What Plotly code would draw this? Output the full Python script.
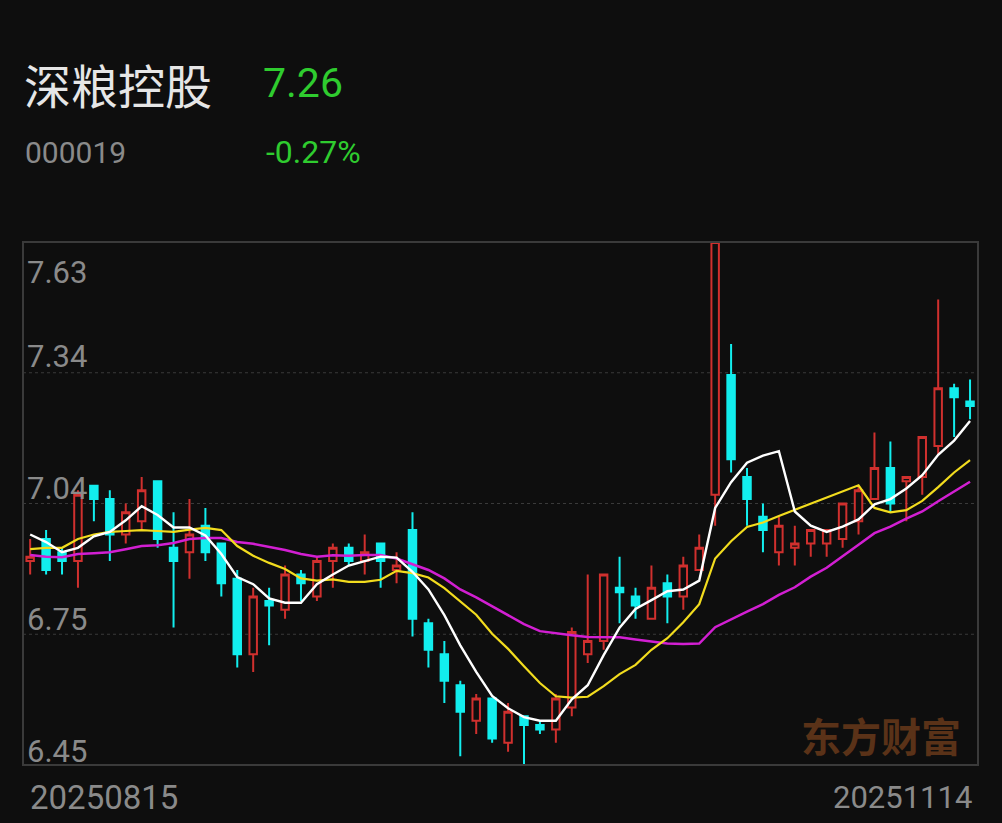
import plotly.graph_objects as go

# ---------------- data ----------------
stock_name = "深粮控股"
stock_code = "000019"
last_price = "7.26"
change_pct = "-0.27%"
date_labels = ["20250815", "20251114"]
y_tick_values = [7.63, 7.335, 7.04, 6.745, 6.45]
y_tick_labels = ["7.63", "7.34", "7.04", "6.75", "6.45"]
watermark = "东方财富"

opens = [6.91, 6.96, 6.93, 6.91, 7.08, 7.05, 6.97, 7.00, 7.09, 6.94,
         6.93, 6.99, 6.95, 6.87, 6.70, 6.82, 6.80, 6.88, 6.83, 6.91,
         6.94, 6.91, 6.95, 6.89, 6.98, 6.77, 6.70, 6.63, 6.55, 6.60,
         6.50, 6.56, 6.54, 6.53, 6.58, 6.70, 6.73, 6.85, 6.83, 6.78,
         6.86, 6.83, 6.89, 7.06, 7.33, 7.10, 7.01, 6.93, 6.94, 6.95,
         6.95, 6.96, 7.00, 7.05, 7.12, 7.09, 7.10, 7.17, 7.30, 7.27]
highs = [6.96, 6.98, 6.94, 7.07, 7.08, 7.07, 7.04, 7.10, 7.09, 7.02,
         7.05, 7.03, 6.95, 6.89, 6.85, 6.85, 6.90, 6.89, 6.92, 6.95,
         6.95, 6.97, 6.95, 6.93, 7.02, 6.78, 6.73, 6.64, 6.61, 6.60,
         6.59, 6.56, 6.55, 6.61, 6.76, 6.88, 6.88, 6.92, 6.85, 6.90,
         6.88, 6.92, 6.97, 7.63, 7.40, 7.12, 7.04, 7.01, 6.99, 6.98,
         6.98, 7.04, 7.08, 7.20, 7.18, 7.10, 7.19, 7.50, 7.31, 7.32]
lows = [6.88, 6.88, 6.88, 6.85, 7.00, 6.91, 6.95, 6.98, 6.94, 6.76,
        6.87, 6.91, 6.83, 6.67, 6.66, 6.72, 6.78, 6.82, 6.82, 6.85,
        6.90, 6.88, 6.85, 6.86, 6.74, 6.67, 6.59, 6.47, 6.52, 6.50,
        6.48, 6.451, 6.52, 6.50, 6.56, 6.68, 6.71, 6.77, 6.78, 6.78,
        6.77, 6.80, 6.89, 6.99, 7.11, 6.99, 6.93, 6.90, 6.90, 6.92,
        6.92, 6.94, 6.97, 7.05, 7.02, 7.00, 7.06, 7.15, 7.19, 7.23]
closes = [6.92, 6.89, 6.91, 7.06, 7.05, 6.97, 7.02, 7.07, 6.96, 6.91,
          6.97, 6.93, 6.86, 6.70, 6.83, 6.81, 6.88, 6.86, 6.91, 6.94,
          6.91, 6.93, 6.91, 6.90, 6.78, 6.71, 6.64, 6.57, 6.60, 6.51,
          6.57, 6.54, 6.53, 6.60, 6.75, 6.73, 6.88, 6.84, 6.81, 6.85,
          6.83, 6.90, 6.94, 7.63, 7.14, 7.05, 6.98, 6.99, 6.95, 6.98,
          6.98, 7.04, 7.07, 7.12, 7.04, 7.10, 7.19, 7.30, 7.28, 7.26]

ma5 = [6.970, 6.953, 6.930, 6.940, 6.966, 6.976, 7.002, 7.034, 7.014, 6.986,
       6.986, 6.968, 6.926, 6.874, 6.858, 6.826, 6.816, 6.816, 6.858, 6.880,
       6.900, 6.910, 6.920, 6.918, 6.886, 6.846, 6.788, 6.720, 6.660, 6.606,
       6.578, 6.558, 6.550, 6.550, 6.598, 6.630, 6.698, 6.760, 6.802, 6.822,
       6.842, 6.846, 6.866, 7.030, 7.088, 7.132, 7.148, 7.158, 7.022, 6.990,
       6.976, 6.988, 7.004, 7.038, 7.050, 7.074, 7.104, 7.150, 7.182, 7.226]
ma10 = [6.937, 6.940, 6.940, 6.960, 6.970, 6.976, 6.978, 6.980, 6.978, 6.976,
        6.981, 6.985, 6.980, 6.944, 6.922, 6.906, 6.892, 6.871, 6.866, 6.869,
        6.863, 6.863, 6.868, 6.888, 6.883, 6.873, 6.849, 6.820, 6.789, 6.746,
        6.712, 6.673, 6.635, 6.605, 6.602, 6.604, 6.628, 6.655, 6.676, 6.710,
        6.736, 6.772, 6.813, 6.916, 6.955, 6.987, 6.997, 7.012, 7.026, 7.039,
        7.054, 7.068, 7.081, 7.030, 7.020, 7.025, 7.046, 7.077, 7.110, 7.138]
ma20 = [6.924, 6.920, 6.919, 6.926, 6.928, 6.930, 6.937, 6.944, 6.946, 6.951,
        6.960, 6.962, 6.962, 6.953, 6.949, 6.942, 6.935, 6.926, 6.920, 6.923,
        6.922, 6.924, 6.924, 6.916, 6.903, 6.890, 6.871, 6.846, 6.828, 6.808,
        6.788, 6.768, 6.752, 6.747, 6.743, 6.739, 6.739, 6.738, 6.733, 6.728,
        6.724, 6.723, 6.724, 6.761, 6.779, 6.796, 6.813, 6.834, 6.851, 6.875,
        6.895, 6.920, 6.947, 6.973, 6.988, 7.006, 7.022, 7.045, 7.068, 7.089]

# ---------------- style ----------------
BG = "#0e0e0e"
RED = "#d0302e"
CYAN = "#12eeee"
GREEN = "#2fcc2f"
GRAY = "#8a8a8a"
DIGIT_FONT = "Roboto, Noto Sans CJK SC, sans-serif"
CJK_FONT = "Noto Sans CJK SC, sans-serif"

W, H = 1002, 823
L, R, T, B = 23, 978, 242, 765


def px_x(px):
    return (px - L) / (R - L)


def px_y(py):
    return (B - py) / (B - T)


idx = list(range(len(closes)))

fig = go.Figure()
fig.add_trace(go.Candlestick(
    x=idx, open=opens, high=highs, low=lows, close=closes,
    increasing=dict(line=dict(color=RED, width=2), fillcolor=BG),
    decreasing=dict(line=dict(color=CYAN, width=2), fillcolor=CYAN),
    hoverinfo="skip", showlegend=False,
))
fig.add_trace(go.Scatter(x=idx, y=ma20, mode="lines",
                         line=dict(color="#d21fd2", width=2.5), hoverinfo="skip", showlegend=False))
fig.add_trace(go.Scatter(x=idx, y=ma10, mode="lines",
                         line=dict(color="#f2dc1e", width=2.2), hoverinfo="skip", showlegend=False))
fig.add_trace(go.Scatter(x=idx, y=ma5, mode="lines",
                         line=dict(color="#ffffff", width=2.4), hoverinfo="skip", showlegend=False))

shapes = []
for v in y_tick_values[1:-1]:
    shapes.append(dict(type="line", xref="paper", x0=0, x1=1, yref="y", y0=v, y1=v,
                       line=dict(color="#3a3a3a", width=1, dash="dot"), layer="below"))
shapes.append(dict(type="rect", xref="paper", yref="paper", x0=0, x1=1, y0=0, y1=1,
                   line=dict(color="#3a3a3a", width=2), layer="above"))

annotations = []
label_centers = [272, 356, 488, 619, 751]
for lab, cy in zip(y_tick_labels, label_centers):
    annotations.append(dict(text=lab, xref="paper", yref="paper", x=px_x(25), y=px_y(cy),
                            xanchor="left", yanchor="middle", showarrow=False,
                            font=dict(family=DIGIT_FONT, size=31, color=GRAY)))
annotations.append(dict(text=date_labels[0], xref="paper", yref="paper", x=px_x(28), y=px_y(797),
                        xanchor="left", yanchor="middle", showarrow=False,
                        font=dict(family=DIGIT_FONT, size=33, color=GRAY)))
annotations.append(dict(text=date_labels[1], xref="paper", yref="paper", x=px_x(974), y=px_y(797),
                        xanchor="right", yanchor="middle", showarrow=False,
                        font=dict(family=DIGIT_FONT, size=31, color=GRAY)))
annotations.append(dict(text=stock_name, xref="paper", yref="paper", x=px_x(22), y=px_y(83),
                        xanchor="left", yanchor="middle", showarrow=False,
                        font=dict(family=CJK_FONT, size=47, color="#e6e6e6")))
annotations.append(dict(text=last_price, xref="paper", yref="paper", x=px_x(261), y=px_y(83),
                        xanchor="left", yanchor="middle", showarrow=False,
                        font=dict(family=DIGIT_FONT, size=41, color=GREEN)))
annotations.append(dict(text=stock_code, xref="paper", yref="paper", x=px_x(23), y=px_y(152),
                        xanchor="left", yanchor="middle", showarrow=False,
                        font=dict(family=DIGIT_FONT, size=30, color=GRAY)))
annotations.append(dict(text=change_pct, xref="paper", yref="paper", x=px_x(264), y=px_y(152),
                        xanchor="left", yanchor="middle", showarrow=False,
                        font=dict(family=DIGIT_FONT, size=32, color=GREEN)))
annotations.append(dict(text="<b>" + watermark + "</b>", xref="paper", yref="paper",
                        x=px_x(963), y=px_y(735), xanchor="right", yanchor="middle", showarrow=False,
                        font=dict(family=CJK_FONT, size=40, color="#5a3218")))

fig.update_layout(
    width=W, height=H,
    margin=dict(l=L, r=W - R, t=T, b=H - B, pad=0),
    paper_bgcolor=BG, plot_bgcolor=BG,
    boxgap=0.33,
    xaxis=dict(range=[-0.45, 59.5], showgrid=False, zeroline=False, showticklabels=False,
               rangeslider=dict(visible=False), fixedrange=True),
    yaxis=dict(range=[6.45, 7.63], showgrid=False, zeroline=False, showticklabels=False,
               fixedrange=True),
    shapes=shapes, annotations=annotations,
)

fig.write_html("out.html", config={"displayModeBar": False},
               post_script="document.body.style.margin='0';document.body.style.background='#0e0e0e';")
